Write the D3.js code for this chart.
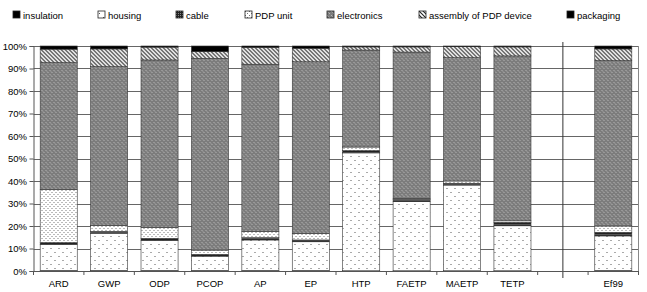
<!DOCTYPE html>
<html>
<head>
<meta charset="utf-8">
<script src="https://cdn.jsdelivr.net/npm/d3@7"></script>
<style>
  body { margin: 0; background: #fff; }
  text { font-family: "Liberation Sans", Arial, sans-serif; font-size: 9.5px; fill: #000; }
</style>
</head>
<body>
<script>
// categories (" " is the empty slot before Ef99)
const categories = ["ARD", "GWP", "ODP", "PCOP", "AP", "EP", "HTP", "FAETP", "MAETP", "TETP", " ", "Ef99"];
const components = ["insulation", "housing", "cable", "PDP unit", "electronics", "assembly of PDP device", "packaging"];

// shares in % per category
const insulation  = [0.2, 0.2, 0.2, 0.2, 0.2, 0.2, 0.1, 0.1, 0.1, 0.1, 0, 0.2];
const housing     = [11.6, 16.6, 13.4, 6.4, 13.6, 12.8, 52.4, 30.7, 38.1, 20.0, 0, 15.4];
const cable       = [0.8, 0.8, 0.9, 0.8, 1.0, 0.8, 1.0, 1.0, 0.8, 1.5, 0, 1.6];
const pdpUnit     = [23.7, 2.7, 4.9, 1.9, 2.7, 2.9, 1.6, 0.5, 1.0, 0.7, 0, 2.8];
const electronics = [56.3, 70.5, 74.4, 85.2, 74.4, 76.3, 43.1, 65.0, 54.8, 73.3, 0, 73.5];
const assembly    = [6.0, 7.9, 5.7, 3.0, 7.5, 6.0, 1.4, 2.3, 4.9, 4.0, 0, 5.2];
const packaging   = [1.4, 1.3, 0.5, 2.5, 0.6, 1.0, 0.4, 0.4, 0.3, 0.4, 0, 1.3];

const series = [insulation, housing, cable, pdpUnit, electronics, assembly, packaging];
const yTicks = [0, 10, 20, 30, 40, 50, 60, 70, 80, 90, 100];

const W = 647, H = 292;
const margin = { top: 46, right: 8.5, bottom: 21, left: 33.5 };
const innerW = W - margin.left - margin.right;
const innerH = H - margin.top - margin.bottom;

const svg = d3.select(document.body).append('svg')
  .attr('width', W).attr('height', H);

// fill patterns
const defs = svg.append('defs');
function pattern(id, w, h) {
  return defs.append('pattern').attr('id', id)
    .attr('patternUnits', 'userSpaceOnUse').attr('width', w).attr('height', h);
}
// housing: sparse dots
let p = pattern('p-housing', 8, 8);
p.append('rect').attr('width', 8).attr('height', 8).attr('fill', '#fff');
p.append('rect').attr('x', 1).attr('y', 2).attr('width', 1).attr('height', 1).attr('fill', '#555');
p.append('rect').attr('x', 5).attr('y', 6).attr('width', 1).attr('height', 1).attr('fill', '#555');
// PDP unit: dense dots
p = pattern('p-pdp', 4, 4);
p.append('rect').attr('width', 4).attr('height', 4).attr('fill', '#fff');
p.append('rect').attr('x', 0).attr('y', 0).attr('width', 1).attr('height', 1).attr('fill', '#777');
p.append('rect').attr('x', 2).attr('y', 2).attr('width', 1).attr('height', 1).attr('fill', '#777');
// cable: dark checker
p = pattern('p-cable', 2, 2);
p.append('rect').attr('width', 2).attr('height', 2).attr('fill', '#222');
p.append('rect').attr('width', 1).attr('height', 1).attr('fill', '#888');
// electronics: gray checker
p = pattern('p-elec', 4, 4);
p.append('rect').attr('width', 4).attr('height', 4).attr('fill', '#7c7c7c');
p.append('rect').attr('x', 0).attr('y', 0).attr('width', 1).attr('height', 1).attr('fill', '#b4b4b4');
p.append('rect').attr('x', 2).attr('y', 2).attr('width', 1).attr('height', 1).attr('fill', '#b4b4b4');
p.append('rect').attr('x', 1).attr('y', 1).attr('width', 1).attr('height', 1).attr('fill', '#9a9a9a');
// assembly: diagonal hatch
p = pattern('p-assembly', 4, 4);
p.append('rect').attr('width', 4).attr('height', 4).attr('fill', '#fff');
p.append('path').attr('d', 'M-1,-1L5,5M-1,3L1,5M3,-1L5,1')
  .attr('stroke', '#222').attr('stroke-width', 1.1);

const fills = ['#000', 'url(#p-housing)', 'url(#p-cable)', 'url(#p-pdp)', 'url(#p-elec)', 'url(#p-assembly)', '#000'];

const x = d3.scaleBand().domain(categories).range([0, innerW])
  .paddingInner(0.265).paddingOuter(0.1325);
const y = d3.scaleLinear().domain([0, 100]).range([innerH, 0]);

const g = svg.append('g').attr('transform', `translate(${margin.left},${margin.top})`);

// grid
g.append('g').selectAll('line').data(yTicks).join('line')
  .attr('x1', 0).attr('x2', innerW)
  .attr('y1', d => Math.round(y(d)) + 0.5).attr('y2', d => Math.round(y(d)) + 0.5)
  .attr('stroke', '#666').attr('stroke-width', 1);
g.append('line').attr('x1', innerW).attr('x2', innerW).attr('y1', 0).attr('y2', innerH)
  .attr('stroke', '#888');

// stacked bars
const table = categories.map((c, i) => {
  const row = { cat: c };
  components.forEach((k, j) => row[k] = series[j][i]);
  return row;
}).filter(d => d.cat.trim() !== '');
const stacked = d3.stack().keys(components)(table);

g.append('g').selectAll('g').data(stacked).join('g')
  .attr('fill', (d, i) => fills[i])
  .selectAll('rect').data(d => d).join('rect')
  .attr('x', d => x(d.data.cat))
  .attr('width', x.bandwidth())
  .attr('y', d => y(d[1]))
  .attr('height', d => Math.max(0, y(d[0]) - y(d[1])))
  .attr('stroke', '#333').attr('stroke-width', 0.6);

// separator before Ef99
g.append('line')
  .attr('x1', x(' ') + x.bandwidth() / 2).attr('x2', x(' ') + x.bandwidth() / 2)
  .attr('y1', -4).attr('y2', innerH + 7)
  .attr('stroke', '#333').attr('stroke-width', 1);

// y axis
const yAxis = g.append('g')
  .call(d3.axisLeft(y).tickValues(yTicks).tickSize(4).tickFormat(d => d + '%'));
yAxis.select('.domain').attr('stroke', '#555');
yAxis.selectAll('.tick line').attr('stroke', '#555');
yAxis.selectAll('text').attr('x', -6.5).style('font-size', '9.5px')
  .style('font-family', '"Liberation Sans", Arial, sans-serif');

// x axis: labels centred, ticks at band boundaries
const xAxis = g.append('g').attr('transform', `translate(0,${innerH})`)
  .call(d3.axisBottom(x).tickSize(0).tickPadding(9));
xAxis.select('.domain').attr('stroke', '#555');
xAxis.selectAll('text').style('font-size', '9.5px')
  .style('font-family', '"Liberation Sans", Arial, sans-serif');
g.append('g').selectAll('line').data(d3.range(categories.length + 1)).join('line')
  .attr('x1', i => i * x.step()).attr('x2', i => i * x.step())
  .attr('y1', innerH).attr('y2', innerH + 4)
  .attr('stroke', '#555');

// legend
const legendX = [13, 98, 176, 245, 327, 419, 567];
const legend = svg.append('g').selectAll('g').data(components).join('g')
  .attr('transform', (d, i) => `translate(${legendX[i]},11)`);
legend.append('rect').attr('width', 7).attr('height', 7)
  .attr('fill', (d, i) => fills[i]).attr('stroke', '#222').attr('stroke-width', 0.8);
legend.append('text').attr('x', 10).attr('y', 7.5).text(d => d);
</script>
</body>
</html>
